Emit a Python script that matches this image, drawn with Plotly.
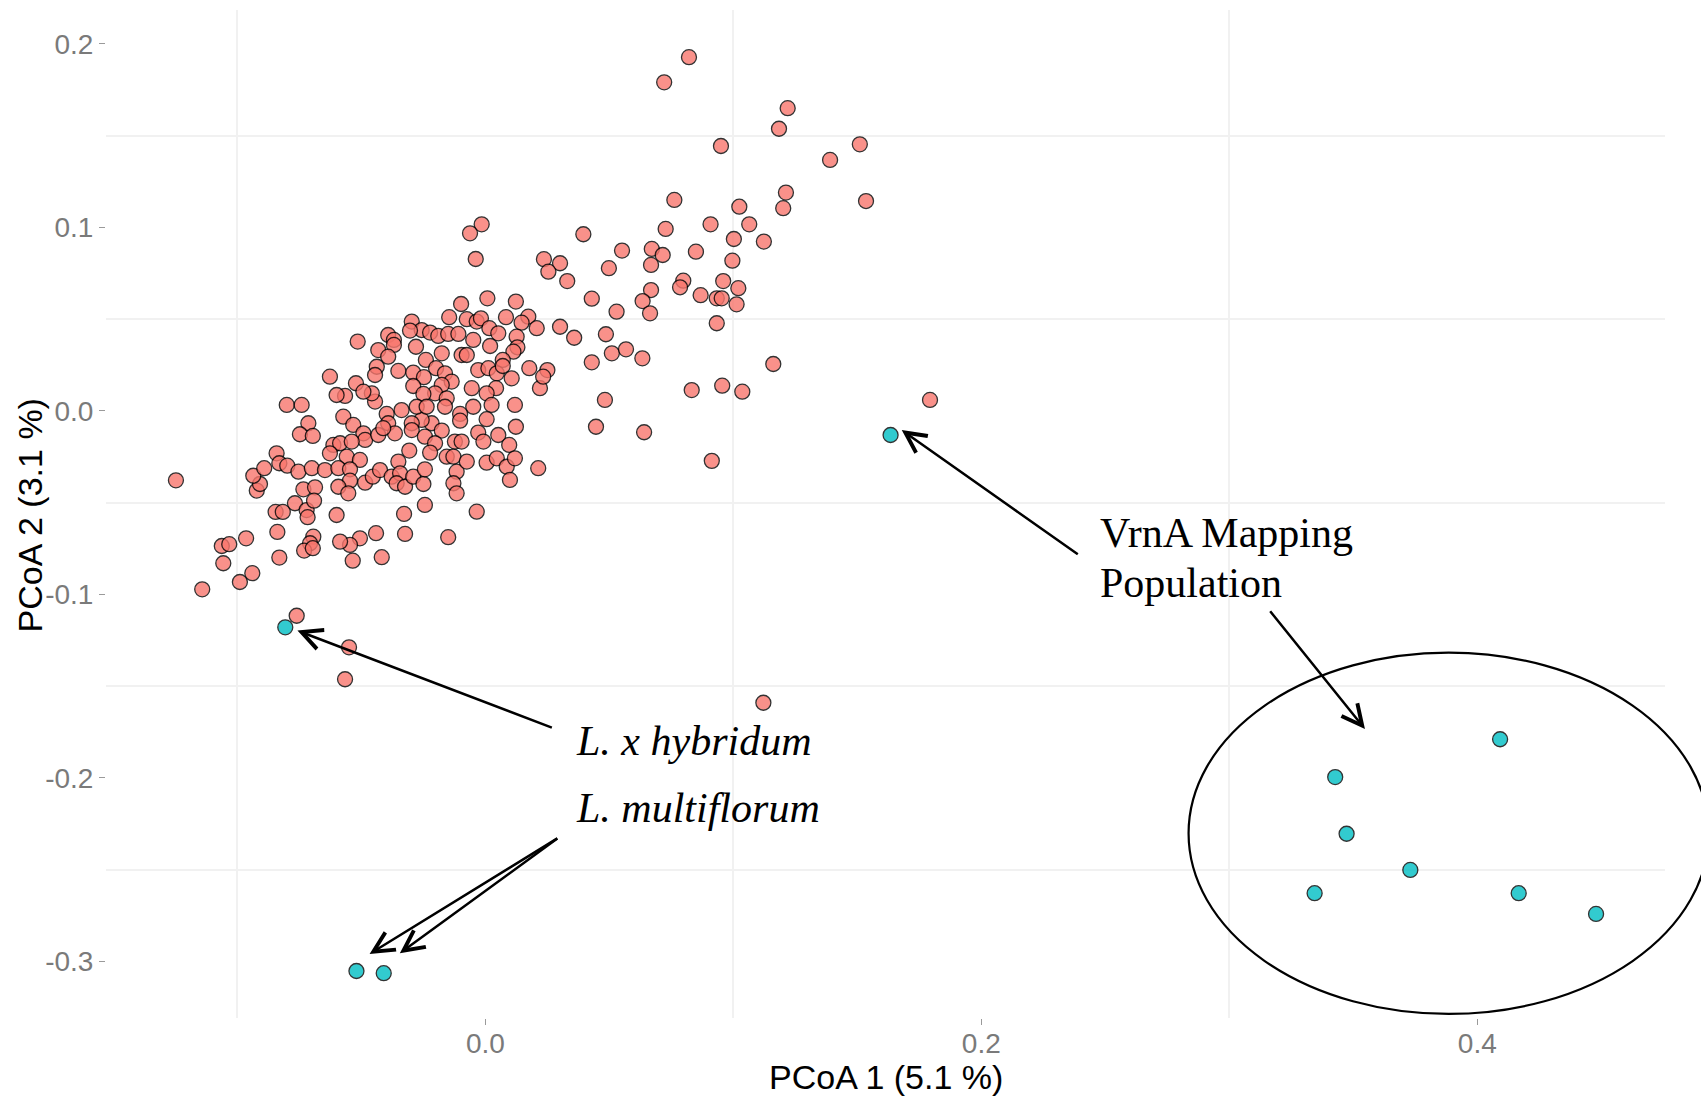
import plotly.graph_objects as go

# PCoA scores: accessions of the main collection
pc1_main = [
    -0.1248, -0.1142, -0.1057, -0.1063, -0.1033, -0.0990, -0.0940, -0.0965, -0.0922, -0.0909,
    -0.0936, -0.0892, -0.0842, -0.0831, -0.0799, -0.0754, -0.0700, -0.0839, -0.0831, -0.0846,
    -0.0817, -0.0768, -0.0721, -0.0717, -0.0734, -0.0687, -0.0691, -0.0694, -0.0707, -0.0731,
    -0.0696, -0.0801, -0.0741, -0.0714, -0.0748, -0.0696, -0.0535, -0.0418, -0.0761, -0.0550,
    -0.0566,
    -0.0098, 0.0008, 0.0123, 0.0083, 0.0173, 0.0146, 0.0207, -0.0146, -0.0075, -0.0035,
    -0.0018, 0.0016, 0.0052, 0.0126, 0.0129, 0.0113, 0.0070, 0.0019, -0.0049, -0.0297,
    -0.0257, -0.0223, -0.0190, -0.0150, -0.0109, -0.0304, -0.0280, -0.0392, -0.0369, -0.0369,
    -0.0515, -0.0432, -0.0392, -0.0438, -0.0445, -0.0351, -0.0176, -0.0096, -0.0075, -0.0240,
    -0.0199, -0.0163, -0.0136, -0.0291, -0.0248, -0.0291, -0.0176, -0.0203, -0.0250, -0.0156,
    -0.0163, -0.0055, -0.0029, 0.0012, 0.0046, 0.0070, 0.0043, 0.0005, 0.0025, -0.0049,
    0.0106, 0.0177, 0.0220, 0.0119, 0.0123, 0.0005, -0.0029, -0.0008, 0.0052, 0.0096,
    -0.0102, -0.0102, -0.0123, -0.0096, -0.0217, -0.0176, -0.0257, -0.0297, -0.0338, -0.0277,
    -0.0237, -0.0398, -0.0445, -0.0458, -0.0522, -0.0492, -0.0566, -0.0600, -0.0627, -0.0573,
    -0.0533, -0.0492, -0.0485, -0.0432, -0.0392, -0.0365, -0.0412, -0.0297, -0.0244, -0.0203,
    -0.0223, -0.0307, -0.0351, -0.0613, -0.0586, -0.0627, -0.0539, -0.0559, -0.0506, -0.0647,
    -0.0593, -0.0546, -0.0546, -0.0593, -0.0553, -0.0485, -0.0454, -0.0425, -0.0378, -0.0344,
    -0.0358, -0.0324, -0.0291, -0.0250, -0.0244, -0.0156, -0.0129, -0.0116, -0.0075, -0.0129,
    -0.0116, 0.0005, 0.0046, 0.0086, 0.0119, 0.0099, 0.0213, -0.0244, -0.0328, -0.0035,
    -0.0150, -0.0324, -0.0441, -0.0506, -0.0546, -0.0586, -0.0600,
    -0.0015, -0.0062, -0.0039, 0.0762, 0.1212, 0.1201, 0.1024, 0.1064, 0.0908, 0.0727,
    0.0395, 0.1002, 0.1123, 0.0551, 0.0671, 0.0715, 0.0668, 0.0849, 0.0996, 0.0498,
    0.0236, 0.0301, 0.0254, 0.0330, 0.0798, 0.0785, 0.0668, 0.0959, 0.1020, 0.0868,
    0.0933, 0.0953, 0.1013, 0.0429, 0.0634, 0.0529, 0.0664, 0.0933, 0.0301, 0.0358,
    0.0486, 0.0510, 0.0567, 0.0633, 0.0429, 0.0250, 0.0233, 0.1161, 0.0832, 0.0955,
    0.1036, 0.0482, 0.0446, 0.0640, 0.0913, 0.0821, 0.0721, 0.1219, 0.1184, 0.1510,
    0.0950, 0.1390, 0.1535, 0.1793, 0.1121,
]
pc2_main = [
    -0.0378, -0.0972, -0.0830, -0.0736, -0.0726, -0.0932, -0.0884, -0.0694, -0.0434, -0.0398,
    -0.0353, -0.0312, -0.0231, -0.0285, -0.0298, -0.0331, -0.0312, -0.0659, -0.0799, -0.0550,
    -0.0550, -0.0503, -0.0540, -0.0579, -0.0427, -0.0416, -0.0489, -0.0685, -0.0721, -0.0761,
    -0.0748, 0.0033, 0.0033, -0.0067, -0.0127, -0.0136, -0.0816, -0.0797, -0.1116, -0.1288,
    -0.1462,
    0.0583, 0.0614, 0.0596, 0.0511, 0.0514, 0.0481, 0.0451, 0.0511, 0.0500, 0.0487,
    0.0505, 0.0451, 0.0423, 0.0405, 0.0347, 0.0323, 0.0278, 0.0354, 0.0387, 0.0487,
    0.0441, 0.0427, 0.0409, 0.0420, 0.0420, 0.0438, 0.0350, 0.0414, 0.0387, 0.0360,
    0.0378, 0.0332, 0.0296, 0.0241, 0.0196, 0.0218, 0.0314, 0.0305, 0.0305, 0.0278,
    0.0233, 0.0205, 0.0160, 0.0209, 0.0184, 0.0136, 0.0142, 0.0096, 0.0093, 0.0069,
    0.0023, 0.0124, 0.0223, 0.0233, 0.0205, 0.0245, 0.0124, 0.0096, 0.0033, 0.0023,
    0.0178, 0.0233, 0.0124, 0.0033, -0.0086, -0.0045, -0.0118, -0.0167, -0.0131, -0.0185,
    -0.0016, -0.0053, -0.0167, -0.0167, -0.0067, -0.0107, -0.0049, -0.0067, 0.0005, 0.0023,
    0.0023, -0.0016, 0.0051, 0.0096, 0.0151, 0.0105, 0.0082, 0.0087, 0.0187, -0.0031,
    -0.0076, -0.0122, -0.0158, -0.0131, -0.0067, -0.0122, -0.0094, -0.0104, -0.0140, -0.0176,
    -0.0227, -0.0216, -0.0276, -0.0185, -0.0176, -0.0231, -0.0167, -0.0249, -0.0267, -0.0322,
    -0.0312, -0.0318, -0.0380, -0.0413, -0.0449, -0.0391, -0.0358, -0.0322, -0.0358, -0.0340,
    -0.0394, -0.0413, -0.0358, -0.0398, -0.0318, -0.0249, -0.0249, -0.0331, -0.0276, -0.0394,
    -0.0449, -0.0282, -0.0258, -0.0304, -0.0258, -0.0376, -0.0312, -0.0512, -0.0561, -0.0549,
    -0.0688, -0.0670, -0.0666, -0.0694, -0.0730, -0.0712, -0.0567,
    0.1017, 0.0968, 0.0828, 0.1150, 0.1190, 0.1105, 0.1113, 0.1017, 0.1017, 0.0992,
    0.0963, 0.0937, 0.0923, 0.0874, 0.0883, 0.0850, 0.0796, 0.0868, 0.0819, 0.0778,
    0.0827, 0.0805, 0.0759, 0.0708, 0.0710, 0.0674, 0.0659, 0.0708, 0.0669, 0.0631,
    0.0614, 0.0614, 0.0581, 0.0612, 0.0599, 0.0541, 0.0532, 0.0478, 0.0459, 0.0399,
    0.0418, 0.0314, 0.0336, 0.0287, 0.0265, 0.0223, 0.0187, 0.0256, 0.0114, 0.0138,
    0.0105, 0.0060, -0.0086, -0.0116, -0.0272, 0.1928, 0.1791, 0.1650, 0.1538, 0.1453,
    0.1444, 0.1368, 0.1144, 0.0060, -0.1590,
]

# PCoA scores: highlighted accessions (L. x hybridum, L. multiflorum, VrnA population)
pc1_highlight = [-0.0807, -0.0520, -0.0410, 0.1634,
                 0.3427, 0.3473, 0.3344, 0.3730, 0.4092, 0.4167, 0.4479]
pc2_highlight = [-0.1179, -0.3052, -0.3064, -0.0131,
                 -0.1995, -0.2304, -0.2628, -0.2501, -0.1789, -0.2628, -0.2741]

x_tick_vals = [0.0, 0.2, 0.4]
x_tick_text = ["0.0", "0.2", "0.4"]
y_tick_vals = [0.2, 0.1, 0.0, -0.1, -0.2, -0.3]
y_tick_text = ["0.2", "0.1", "0.0", "-0.1", "-0.2", "-0.3"]
x_grid_vals = [-0.1, 0.1, 0.3]
y_grid_vals = [0.15, 0.05, -0.05, -0.15, -0.25]

RED = "#F8766D"
TEAL = "#00BFC4"
SANS = "Liberation Sans, Arial, sans-serif"
SERIF = "Liberation Serif, Times New Roman, serif"

fig = go.Figure()
fig.add_trace(go.Scatter(
    x=pc1_main, y=pc2_main, mode="markers",
    marker=dict(size=15, color=RED, opacity=0.8,
                line=dict(color="black", width=1.3)),
    hoverinfo="skip", showlegend=False,
))
fig.add_trace(go.Scatter(
    x=pc1_highlight, y=pc2_highlight, mode="markers",
    marker=dict(size=15, color=TEAL, opacity=0.8,
                line=dict(color="black", width=1.3)),
    hoverinfo="skip", showlegend=False,
))

axis_common = dict(
    showgrid=False, zeroline=False, showline=False,
    ticks="outside", ticklen=6, tickwidth=1.3, tickcolor="#9a9a9a",
    tickfont=dict(family=SANS, size=28, color="#7a7a7a"),
    tickmode="array",
)
fig.update_xaxes(
    **axis_common, range=[-0.1530, 0.4757],
    tickvals=x_tick_vals, ticktext=x_tick_text,
    ticklabelstandoff=-6,
    minor=dict(tickmode="array", tickvals=x_grid_vals, showgrid=True,
               gridcolor="#f1f1f1", gridwidth=2, ticks=""),
)
fig.update_yaxes(
    **axis_common, range=[-0.3308, 0.2185],
    tickvals=y_tick_vals, ticktext=y_tick_text,
    minor=dict(tickmode="array", tickvals=y_grid_vals, showgrid=True,
               gridcolor="#f1f1f1", gridwidth=2, ticks=""),
)

annotations = []

# axis titles
annotations.append(dict(text="PCoA 1 (5.1 %)", xref="paper", yref="paper",
                        x=0.5, y=-0.0585, xanchor="center", yanchor="middle",
                        showarrow=False, font=dict(family=SANS, size=34, color="black")))
annotations.append(dict(text="PCoA 2 (3.1 %)", xref="paper", yref="paper",
                        x=-0.0485, y=0.499, xanchor="center", yanchor="middle",
                        textangle=-90, showarrow=False,
                        font=dict(family=SANS, size=34, color="black")))

# labels
label_font = dict(family=SERIF, size=42, color="black")
for txt, lx, ly in [("<i>L. x hybridum</i>", 0.0356, -0.1798),
                    ("<i>L. multiflorum</i>", 0.0356, -0.2163),
                    ("VrnA Mapping", 0.2470, -0.0663),
                    ("Population", 0.2470, -0.0935)]:
    annotations.append(dict(text=txt, x=lx, y=ly, xref="x", yref="y",
                            xanchor="left", yanchor="middle", showarrow=False,
                            font=label_font))

# arrows (tail -> head)
for tx, ty, hx, hy in [(0.0274, -0.1729, -0.0758, -0.1197),
                       (0.0296, -0.2324, -0.0467, -0.2959),
                       (0.0296, -0.2324, -0.0345, -0.2955),
                       (0.2395, -0.0787, 0.1679, -0.0104),
                       (0.3160, -0.1083, 0.3547, -0.1733)]:
    annotations.append(dict(text="", x=hx, y=hy, ax=tx, ay=ty,
                            xref="x", yref="y", axref="x", ayref="y",
                            showarrow=True, arrowhead=5, arrowsize=1.6,
                            arrowwidth=2.5, arrowcolor="black", standoff=0))

fig.update_layout(
    width=1701, height=1099, autosize=False,
    margin=dict(l=106, r=36, t=10, b=81, pad=0),
    paper_bgcolor="white", plot_bgcolor="white",
    showlegend=False, hovermode=False,
    annotations=annotations,
    shapes=[dict(type="circle", xref="paper", yref="paper",
                 x0=0.6944, x1=1.0281, y0=0.0040, y1=0.3624,
                 line=dict(color="black", width=2.2), layer="above")],
)

fig.write_html("out.html")
